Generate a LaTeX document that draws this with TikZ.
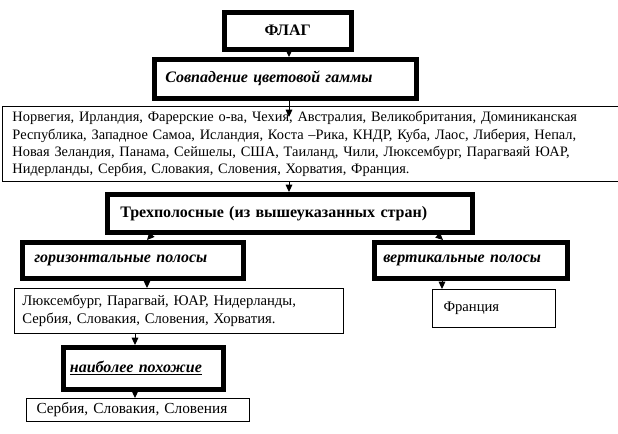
\documentclass[tikz,border=0pt]{standalone}
\usepackage{fontspec}
\setmainfont{Liberation Serif}
\usetikzlibrary{arrows.meta}
\tikzset{
  thickbox/.style={draw, line width=3.4pt, rectangle, anchor=north west, inner ysep=0pt, font=\fontsize{12}{14}\selectfont\bfseries},
  thinbox/.style={draw, line width=0.75pt, rectangle, anchor=north west, inner ysep=0pt, font=\fontsize{11}{13.2}\selectfont},
  arr/.style={line width=0.75pt, -{Triangle[width=5pt,length=5.5pt]}},
}
\begin{document}
\begin{tikzpicture}[x=0.75pt,y=-0.75pt]
\useasboundingbox[fill=white] (0,0) rectangle (618,433);
\node[thickbox, minimum height=27.75pt, text width=85.25pt, inner xsep=5pt, align=center] (flag) at (222,10) {ФЛАГ};
\node[thickbox, minimum height=29.25pt, text width=180pt, inner xsep=8.25pt, align=left] (sovp) at (152,57) {\textit{Совпадение цветовой гаммы}};
\node[thinbox, minimum height=56.25pt, text width=450pt, inner xsep=7.5pt, align=left, font=\fontsize{10.8}{12.9}\selectfont] (list) at (2,106) {Норвегия, Ирландия, Фарерские о-ва, Чехия, Австралия, Великобритания, Доминиканская\\Республика, Западное Самоа, Исландия, Коста –Рика, КНДР, Куба, Лаос, Либерия, Непал,\\Новая Зеландия, Панама, Сейшелы, США, Таиланд, Чили, Люксембург, Парагваяй ЮАР,\\Нидерланды, Сербия, Словакия, Словения, Хорватия, Франция.};
\node[thickbox, minimum height=28.5pt, text width=254.25pt, inner xsep=9.75pt, align=left] (tri) at (105,192) {Трехполосные (из вышеуказанных стран)};
\node[thickbox, minimum height=27pt, text width=147.75pt, inner xsep=9pt, align=left] (hor) at (20,240) {\textit{горизонтальные полосы}};
\node[thickbox, minimum height=27pt, text width=131.25pt, inner xsep=6.75pt, align=left] (ver) at (372,240) {\textit{вертикальные полосы}};
\node[thinbox, minimum height=33.75pt, text width=234.75pt, inner xsep=6pt, align=left] (lux) at (14,288) {Люксембург, Парагвай, ЮАР, Нидерланды,\\Сербия, Словакия, Словения, Хорватия.};
\node[thinbox, minimum height=28.5pt, text width=75.75pt, inner xsep=8.25pt, align=left] (fra) at (432,289) {Франция};
\node[thickbox, minimum height=31.5pt, text width=110pt, inner xsep=5pt, align=left] (nai) at (61,345) {\underline{\textit{наиболее похожие}}};
\node[thinbox, minimum height=17.25pt, text width=152.25pt, inner xsep=7.5pt, align=left, font=\fontsize{11.5}{13.8}\selectfont] (serb) at (26,398) {Сербия, Словакия, Словения};
\coordinate (tip1) at (289,117);
\draw[arr] (289,0 |- flag.south) -- (289,0 |- sovp.north);
\draw[arr] (289,0 |- sovp.south) -- (tip1);
\draw[arr] (289,0 |- list.south) -- (289,0 |- tri.north);
\draw[arr] (152,0 |- tri.south) -- (147,0 |- hor.north);
\draw[arr] (437,0 |- tri.south) -- (443,0 |- ver.north);
\draw[arr] (147,0 |- hor.south) -- (147,0 |- lux.north);
\draw[arr] (442,0 |- ver.south) -- (442,0 |- fra.north);
\draw[arr] (135,0 |- lux.south) -- (135,0 |- nai.north);
\draw[arr] (135,0 |- nai.south) -- (135,0 |- serb.north);
\end{tikzpicture}
\end{document}
